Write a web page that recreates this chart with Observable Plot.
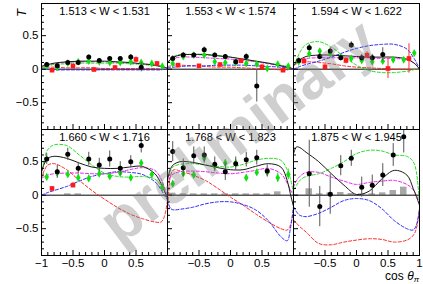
<!DOCTYPE html>
<html><head><meta charset="utf-8">
<script src="https://cdn.jsdelivr.net/npm/d3@7"></script>
<script src="https://cdn.jsdelivr.net/npm/@observablehq/plot@0.6"></script>
<style>body{margin:0;background:#fff}svg{display:block}</style>
</head><body><div id="chart"></div>
<script>
const panelLabels = ["1.513 < W < 1.531","1.553 < W < 1.574","1.594 < W < 1.622","1.660 < W < 1.716","1.768 < W < 1.823","1.875 < W < 1.945"];
const xGrid = [-1,-0.95,-0.9,-0.8,-0.6,-0.4,-0.2,0,0.2,0.4,0.6,0.8,0.9,0.95,1];
const curveBlack = [
 [0.04,0.06,0.07,0.09,0.11,0.12,0.12,0.12,0.11,0.10,0.08,0.06,0.04,0.03,0.01],
 [0.10,0.15,0.18,0.21,0.22,0.22,0.20,0.18,0.15,0.12,0.09,0.05,0.03,0.02,0.00],
 [0.05,0.10,0.14,0.19,0.21,0.21,0.20,0.19,0.18,0.18,0.18,0.15,0.10,0.06,0.00],
 [0.35,0.48,0.55,0.58,0.55,0.48,0.42,0.40,0.40,0.42,0.43,0.32,0.17,0.07,-0.05],
 [0.22,0.40,0.46,0.50,0.49,0.45,0.41,0.38,0.38,0.43,0.47,0.42,0.22,0.02,-0.17],
 [0.62,0.72,0.71,0.64,0.50,0.32,0.15,0.01,0.06,0.24,0.37,0.30,0.10,-0.02,-0.15]
];
const curveGreen = [
 [0.02,0.04,0.05,0.07,0.08,0.09,0.09,0.09,0.09,0.08,0.07,0.05,0.04,0.03,0.01],
 [0.08,0.15,0.19,0.22,0.22,0.21,0.20,0.18,0.15,0.12,0.09,0.06,0.04,0.02,0.00],
 [0.05,0.15,0.25,0.37,0.41,0.33,0.19,0.06,-0.02,-0.05,-0.05,-0.03,-0.01,0.00,0.00],
 [0.30,0.55,0.68,0.75,0.74,0.60,0.45,0.33,0.28,0.27,0.28,0.24,0.14,0.06,-0.05],
 [0.27,0.38,0.43,0.46,0.47,0.45,0.43,0.42,0.46,0.52,0.55,0.52,0.38,0.25,0.02],
 [0.08,0.15,0.22,0.28,0.32,0.40,0.50,0.62,0.67,0.66,0.60,0.58,0.50,0.35,-0.15]
];
const curveMagenta = [
 [0.04,0.05,0.06,0.08,0.10,0.11,0.11,0.11,0.10,0.09,0.08,0.06,0.04,0.03,0.01],
 [0.10,0.14,0.16,0.18,0.18,0.17,0.16,0.15,0.13,0.11,0.08,0.05,0.03,0.02,0.00],
 [0.08,0.12,0.14,0.16,0.17,0.17,0.17,0.17,0.17,0.16,0.16,0.14,0.10,0.06,0.00],
 [0.25,0.28,0.30,0.32,0.33,0.33,0.32,0.32,0.34,0.38,0.41,0.37,0.24,0.12,-0.03],
 [0.17,0.28,0.32,0.35,0.36,0.35,0.33,0.32,0.34,0.37,0.40,0.32,0.18,0.08,0.00],
 [0.12,0.22,0.28,0.34,0.34,0.27,0.21,0.16,0.19,0.21,0.22,0.16,0.08,0.00,-0.12]
];
const curveBlue = [
 [0.00,0.00,0.00,-0.01,-0.01,-0.01,-0.01,-0.01,-0.01,-0.01,-0.01,-0.01,-0.01,0.00,0.00],
 [0.02,0.03,0.03,0.04,0.05,0.05,0.06,0.06,0.06,0.05,0.04,0.03,0.02,0.01,0.00],
 [0.00,0.02,0.04,0.07,0.12,0.18,0.25,0.31,0.35,0.37,0.37,0.30,0.18,0.10,0.00],
 [0.00,0.02,0.04,0.07,0.13,0.21,0.28,0.32,0.35,0.34,0.31,0.20,0.08,0.00,-0.07],
 [-0.07,-0.20,-0.22,-0.21,-0.18,-0.13,-0.10,-0.10,-0.14,-0.22,-0.38,-0.62,-0.68,-0.50,-0.17],
 [-0.17,-0.25,-0.30,-0.32,-0.27,-0.18,-0.08,-0.05,-0.08,-0.20,-0.38,-0.50,-0.52,-0.45,-0.20]
];
const curveRed = [
 [0.03,0.03,0.03,0.03,0.02,0.02,0.02,0.01,0.01,0.01,0.01,0.01,0.00,0.00,0.00],
 [0.04,0.05,0.06,0.06,0.05,0.04,0.03,0.03,0.02,0.01,0.00,-0.01,-0.01,0.00,0.00],
 [0.06,0.08,0.10,0.11,0.10,0.08,0.05,0.03,0.02,0.01,0.00,0.00,0.00,0.00,0.00],
 [0.25,0.38,0.45,0.47,0.38,0.22,0.07,-0.06,-0.18,-0.28,-0.35,-0.40,-0.40,-0.32,-0.08],
 [-0.30,0.30,0.38,0.36,0.30,0.22,0.10,-0.03,-0.15,-0.28,-0.40,-0.50,-0.52,-0.45,-0.22],
 [-0.37,-0.42,-0.47,-0.55,-0.72,-0.74,-0.70,-0.67,-0.65,-0.66,-0.70,-0.67,-0.60,-0.50,-0.20]
];

const binCenters = [-0.917,-0.75,-0.583,-0.417,-0.25,-0.083,0.083,0.25,0.417,0.583,0.75,0.917];
const redBins = [-0.833,-0.5,-0.167,0.167,0.5,0.833];

const blackT = [
 [0.07,0.05,0.10,0.10,0.18,0.13,0.16,0.16,0.18,0.03,null,null],
 [0.16,0.21,0.21,0.29,0.21,0.19,0.11,0.19,-0.25,null,null,null],
 [0.13,0.32,0.19,0.27,0.17,0.36,0.17,0.17,0.22,null,null,null],
 [0.54,0.35,0.61,0.40,0.54,0.45,0.54,0.40,0.50,0.74,null,null],
 [0.65,0.41,0.59,0.60,0.46,0.35,0.47,0.53,0.56,0.36,null,null],
 [null,0.32,-0.17,0.015,0.44,0.55,0.12,0.15,0.30,0.60,0.87,null]
];
const blackErr = [
 [0.03,0.03,0.03,0.03,0.03,0.03,0.03,0.03,0.04,0.07,0,0],
 [0.04,0.04,0.03,0.04,0.03,0.03,0.03,0.04,0.24,0,0,0],
 [0.04,0.05,0.05,0.05,0.04,0.05,0.05,0.05,0.10,0,0,0],
 [0.08,0.10,0.09,0.08,0.10,0.10,0.12,0.10,0.09,0.11,0,0],
 [0.15,0.13,0.13,0.12,0.11,0.13,0.10,0.11,0.11,0.09,0,0],
 [0,0.50,0.30,0.30,0.15,0.12,0.15,0.15,0.17,0.17,0.24,0]
];
const greenT = [
 [0.045,0.03,0.09,0.11,0.12,0.11,0.10,0.10,0.11,0.10,0.085,0.045],
 [0.085,0.19,0.21,0.21,0.11,0.095,0.095,0.085,0.075,0.01,0.075,0.045],
 [0.11,0.23,0.27,0.23,0.18,0.16,0.13,0.11,0.12,0.14,0.14,0.24],
 [0.27,0.33,0.31,0.26,0.25,0.32,0.28,0.33,0.26,0.48,0.31,0.12],
 [0.17,0.32,0.30,0.55,0.43,0.48,0.48,0.26,0.34,0.34,0.26,0.31],
 [null,null,null,null,null,null,null,null,null,null,null,null]
];
const greenErr = [
 [0.02,0.02,0.02,0.02,0.02,0.02,0.02,0.02,0.02,0.02,0.02,0.02],
 [0.02,0.02,0.02,0.02,0.02,0.02,0.02,0.02,0.02,0.02,0.02,0.02],
 [0.03,0.03,0.03,0.03,0.03,0.03,0.03,0.03,0.03,0.03,0.03,0.04],
 [0.05,0.05,0.05,0.05,0.05,0.05,0.05,0.05,0.05,0.05,0.06,0.07],
 [0.05,0.05,0.05,0.05,0.05,0.05,0.05,0.05,0.05,0.05,0.07,0.08],
 [0,0,0,0,0,0,0,0,0,0,0,0]
];
const redT = [
 [-0.015,0.045,-0.005,0.025,0.145,0.085],
 [0.06,0.05,0.07,0.125,0.035,-0.015],
 [0.12,0.035,0.13,0.21,0.01,0.16],
 [0.10,0.15,null,null,null,null],
 [null,null,null,null,null,null],
 [null,null,null,null,null,null]
];
const redErr = [
 [0.02,0.02,0.02,0.02,0.04,0.03],
 [0.02,0.02,0.02,0.03,0.03,0.03],
 [0.04,0.04,0.05,0.05,0.15,0.22],
 [0.03,0.04,0,0,0,0],
 [0,0,0,0,0,0],
 [0,0,0,0,0,0]
];
const sysHeight = [
 [0,0,0,0,0,0,0,0,0,0,0,0],
 [0,0,0,0,0,0,0,0,0,0,0,0],
 [0,0,0,0,0,0,0,0,0,0,0,0],
 [0,0,0.02,0.02,0,0,0,0,0,0,0,0],
 [0.03,0.02,0.02,0.02,0.02,0.02,0.02,0.02,0.02,0.02,0.05,0],
 [0,0.095,0.02,0.035,0.04,0.025,0.02,0.02,0.035,0.07,0.12,0]
];
const xTickCols = [[-1,-0.5,0,0.5],[-0.5,0,0.5],[-0.5,0,0.5,1]];
const yMajor = [-0.5,0,0.5];
const yMinor = [-0.8,-0.7,-0.6,-0.4,-0.3,-0.2,-0.1,0.1,0.2,0.3,0.4,0.6,0.7,0.8,0.9];
const xMajor = [-1,-0.5,0,0.5,1];
const xMinor = [-0.9,-0.8,-0.7,-0.6,-0.4,-0.3,-0.2,-0.1,0.1,0.2,0.3,0.4,0.6,0.7,0.8,0.9];

const fmt = d3.format("");
const pos = p => ({fx: p % 3, fy: Math.floor(p / 3)});

function curveRows(arr) {
  return arr.flatMap((ys, p) => ys.map((y, i) => ({...pos(p), p, x: xGrid[i], y})));
}
function pointRows(vals, errs, xs) {
  return vals.flatMap((ys, p) => ys.map((y, i) => ({...pos(p), x: xs[i], y, e: errs[p][i]})))
    .filter(d => d.y != null);
}
const blackPts = pointRows(blackT, blackErr, binCenters);
const greenPts = pointRows(greenT, greenErr, binCenters);
const redPts = pointRows(redT, redErr, redBins);
const sysRows = sysHeight.flatMap((hs, p) => hs.map((h, i) => ({...pos(p), x: binCenters[i], h}))).filter(d => d.h > 0);
const labelRows = panelLabels.map((t, p) => ({...pos(p), t}));
const xTickRows = xTickCols.flatMap((ts, c) => ts.map(x => ({fx: c, fy: 1, x})));

const dash = "3,2";
const curveOpts = (stroke) => ({x: "x", y: "y", z: "p", fx: "fx", fy: "fy", stroke, strokeWidth: 1, strokeDasharray: dash, curve: "catmull-rom", clip: true});

const chart = Plot.plot({
  width: 423, height: 284,
  marginLeft: 41, marginRight: 4, marginTop: 3, marginBottom: 29,
  style: {fontFamily: "'Liberation Sans', Arial, Helvetica, sans-serif", fontSize: "11px", background: "#fff"},
  fx: {domain: [0,1,2], padding: 0, axis: null},
  fy: {domain: [0,1], padding: 0, axis: null},
  x: {domain: [-1, 1], axis: null},
  y: {domain: [-0.9, 0.98], axis: null},
  marks: [
    Plot.rectY(sysRows, {x: "x", y: "h", interval: 1/6, insetLeft: 2, insetRight: 2, fx: "fx", fy: "fy", fill: "#a8a8a8"}),
    Plot.ruleY([0], {stroke: "#000", strokeWidth: 1}),
    Plot.line(curveRows(curveRed), curveOpts("#ff2a2a")),
    Plot.line(curveRows(curveBlue), curveOpts("#2a2aff")),
    Plot.line(curveRows(curveMagenta), curveOpts("#f020f0")),
    Plot.line(curveRows(curveGreen), curveOpts("#22e022")),
    Plot.line(curveRows(curveBlack), {x: "x", y: "y", z: "p", fx: "fx", fy: "fy", stroke: "#1a1a1a", strokeWidth: 1, curve: "catmull-rom", clip: true}),
    Plot.ruleX(redPts, {x: "x", y1: d => d.y - d.e, y2: d => d.y + d.e, fx: "fx", fy: "fy", stroke: "#ff3030", clip: true}),
    Plot.dot(redPts, {x: "x", y: "y", fx: "fx", fy: "fy", symbol: "square", r: 2.6, fill: "#ff1a1a", clip: true}),
    Plot.ruleX(greenPts, {x: "x", y1: d => d.y - d.e, y2: d => d.y + d.e, fx: "fx", fy: "fy", stroke: "#20dd20", clip: true}),
    Plot.dot(greenPts, {x: "x", y: "y", fx: "fx", fy: "fy", symbol: "diamond", r: 2.4, fill: "#10e010", clip: true}),
    Plot.ruleX(blackPts, {x: "x", y1: d => d.y - d.e, y2: d => d.y + d.e, fx: "fx", fy: "fy", stroke: "#555", clip: true}),
    Plot.dot(blackPts, {x: "x", y: "y", fx: "fx", fy: "fy", r: 2.5, fill: "#000", clip: true}),
    Plot.frame({stroke: "#000", strokeWidth: 1}),
    Plot.tickY(yMajor, {y: d => d, insetRight: 121, stroke: "#000"}),
    Plot.tickY(yMinor, {y: d => d, insetRight: 123, stroke: "#000"}),
    Plot.tickX(xMajor, {x: d => d, insetTop: 121, stroke: "#000"}),
    Plot.tickX(xMinor, {x: d => d, insetTop: 123, stroke: "#000"}),
    Plot.axisY({ticks: yMajor, tickSize: 0, tickPadding: 3, label: null, fontSize: 11.5, tickFormat: fmt}),
    Plot.text(xTickRows, {x: "x", fx: "fx", fy: "fy", text: d => fmt(d.x), frameAnchor: "bottom", dy: 8, lineAnchor: "middle", fontSize: 11.5, fill: "#000"}),
    Plot.text(labelRows, {fx: "fx", fy: "fy", text: "t", frameAnchor: "top", dy: 8, lineAnchor: "middle", fontSize: 11, fill: "#000"})
  ]
});
document.getElementById("chart").append(chart);

const svg = d3.select(chart);
svg.append("text")
  .attr("transform", "translate(238,131) rotate(-37)")
  .attr("text-anchor", "middle").attr("dominant-baseline", "central")
  .attr("font-size", 61).attr("font-weight", "bold")
  .attr("font-family", "'Liberation Sans', Arial, sans-serif")
  .attr("fill", "#7a7a7a").attr("fill-opacity", 0.36)
  .text("preliminary");
svg.append("text")
  .attr("transform", "translate(21,13) rotate(-90)")
  .attr("text-anchor", "middle").attr("dominant-baseline", "central")
  .attr("font-size", 13).attr("font-style", "italic")
  .attr("font-family", "'Liberation Sans', Arial, sans-serif")
  .text("T");
const xl = svg.append("text")
  .attr("x", 419).attr("y", 280).attr("text-anchor", "end")
  .attr("font-size", 12).attr("font-family", "'Liberation Sans', Arial, sans-serif");
xl.append("tspan").text("cos ");
xl.append("tspan").attr("font-style", "italic").text("θ");
xl.append("tspan").attr("font-style", "italic").attr("font-size", 8).attr("dy", 2).text("π");
</script>
</body></html>
